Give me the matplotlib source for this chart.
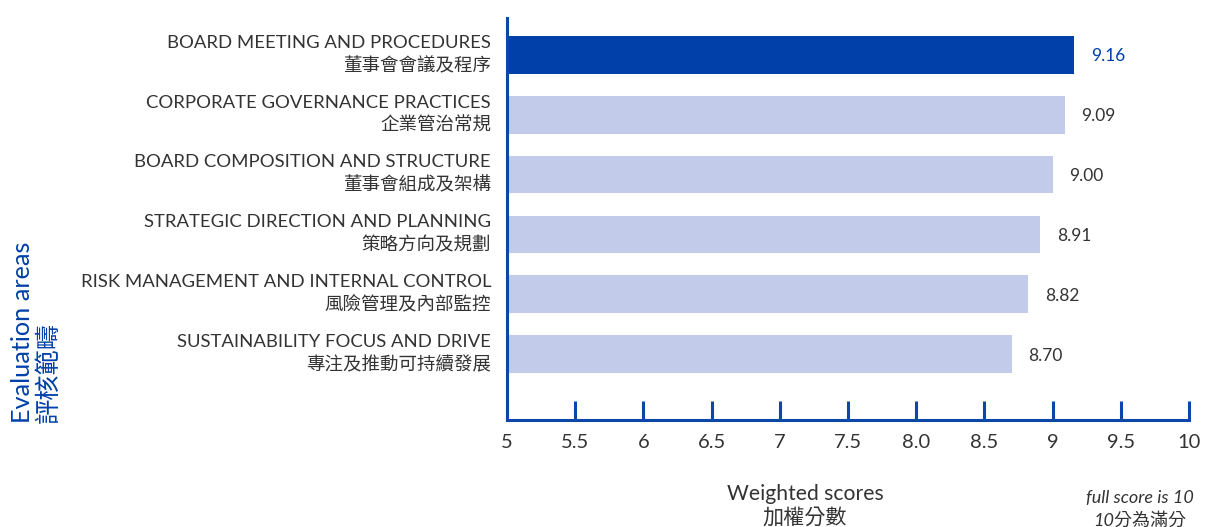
import matplotlib
matplotlib.use("Agg")
import matplotlib.pyplot as plt
import matplotlib.transforms as mtransforms

plt.rcParams['font.family'] = ['Lato', 'Noto Sans CJK TC', 'DejaVu Sans']

categories_en = [
    "BOARD MEETING AND PROCEDURES",
    "CORPORATE GOVERNANCE PRACTICES",
    "BOARD COMPOSITION AND STRUCTURE",
    "STRATEGIC DIRECTION AND PLANNING",
    "RISK MANAGEMENT AND INTERNAL CONTROL",
    "SUSTAINABILITY FOCUS AND DRIVE",
]
categories_zh = [
    "董事會會議及程序",
    "企業管治常規",
    "董事會組成及架構",
    "策略方向及規劃",
    "風險管理及內部監控",
    "專注及推動可持續發展",
]
scores = [9.16, 9.09, 9.00, 8.91, 8.82, 8.70]
tick_values = [5, 5.5, 6, 6.5, 7, 7.5, 8.0, 8.5, 9, 9.5, 10]
tick_labels = ["5", "5.5", "6", "6.5", "7", "7.5", "8.0", "8.5", "9", "9.5", "10"]

DARK = "#0040A8"
LIGHT = "#C2CBE9"
AXIS = "#0A47A9"
TEXT = "#333333"

fig = plt.figure(figsize=(12.05, 5.27), dpi=100)
ax = fig.add_axes([507/1205, 107/527, (1189-507)/1205, (509-107)/527])

ypos = list(range(len(scores)))
colors = [DARK] + [LIGHT] * (len(scores) - 1)
base = 5
ax.barh(ypos, [s - base for s in scores], left=base, height=0.63, color=colors)

ax.set_xlim(5, 10)
ax.set_ylim(len(scores) - 1 + 1.1, -0.617)

for i, s in enumerate(scores):
    ax.annotate(f"{s:.2f}", xy=(s, i), xytext=(12, -1), textcoords="offset points",
                ha="left", va="center", fontsize=12.5,
                color=DARK if i == 0 else TEXT)

ax.set_yticks(ypos)
ax.set_yticklabels([f"{e}\n{z}" for e, z in zip(categories_en, categories_zh)],
                   fontsize=13.3, color=TEXT, linespacing=1.4, ha="right")
ax.tick_params(axis="y", length=0, pad=11.5)
for lab in ax.get_yticklabels():
    lab.set_multialignment("right")
    lab.set_transform(lab.get_transform() + mtransforms.ScaledTranslation(0, 5/100, fig.dpi_scale_trans))

ax.set_xticks(tick_values)
ax.set_xticklabels(tick_labels, fontsize=14.5, color=TEXT)
ax.tick_params(axis="x", direction="in", length=14, width=2.2, color=AXIS, pad=10)

for sp in ["top", "right"]:
    ax.spines[sp].set_visible(False)
for sp in ["left", "bottom"]:
    ax.spines[sp].set_color(AXIS)
    ax.spines[sp].set_linewidth(2.2)

fig.text(805/1205, 1 - 506/527, "Weighted scores\n加權分數", ha="center", va="center",
         fontsize=15.2, color=TEXT, linespacing=1.2)
fig.text(1140/1205, 1 - 509/527, "full score is 10\n10分為滿分", ha="center", va="center",
         fontsize=13, color=TEXT, style="italic", linespacing=1.45)
fig.text(35/1205, 1 - 423/527, "Evaluation areas\n評核範疇", rotation=90, ha="center",
         va="bottom", fontsize=18.2, color=DARK, multialignment="left", linespacing=1.12)

fig.savefig("out.png", dpi=100)
